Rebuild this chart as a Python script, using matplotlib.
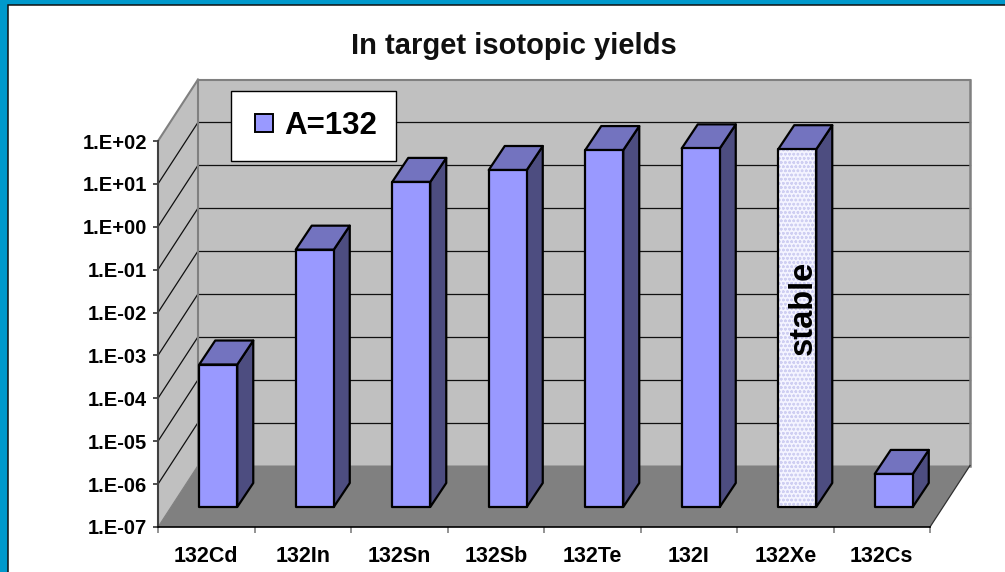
import numpy as np
import matplotlib
matplotlib.use('Agg')
import matplotlib.pyplot as plt
from matplotlib.patches import Polygon, Patch, Rectangle
from matplotlib.lines import Line2D
from matplotlib.legend_handler import HandlerPatch
from matplotlib.transforms import IdentityTransform

plt.rcParams['font.family'] = ['Liberation Sans', 'DejaVu Sans']
plt.rcParams['font.weight'] = 'bold'
plt.rcParams['hatch.linewidth'] = 0.7

# yields per isotope
isotopes = ['132Cd', '132In', '132Sn', '132Sb', '132Te', '132I', '132Xe', '132Cs']
yields = [2.1e-4, 1.0e-1, 3.8, 7.2, 21, 23, 22, 5.9e-7]
is_stable = [False, False, False, False, False, False, True, False]
decades = [1e-7, 1e-6, 1e-5, 1e-4, 1e-3, 1e-2, 1e-1, 1e0, 1e1, 1e2]
decade_labels = ['1.E-07', '1.E-06', '1.E-05', '1.E-04', '1.E-03', '1.E-02', '1.E-01', '1.E+00', '1.E+01', '1.E+02']

W, H = 1005, 572
fig = plt.figure(figsize=(W / 100, H / 100), dpi=100, facecolor='white')

# slide frame
bg = fig.add_axes([0, 0, 1, 1], zorder=0)
bg.set_xlim(0, W)
bg.set_ylim(H, 0)
bg.axis('off')
bg.add_patch(Rectangle((0, 0), W, H, fc='#0099CC', ec='none'))
bg.add_patch(Rectangle((7.5, 5), W, H, fc='white', ec='#101010', lw=1.1))

ax = fig.add_axes([158 / W, 1 - 527 / H, 772 / W, 386 / H], zorder=1)
ax.set_yscale('log')
ax.set_xlim(0, len(isotopes))
ax.set_ylim(1e-7, 1e2)
ax.patch.set_visible(False)

# oblique depth in pixels: full chart, bar front face, bar back face
chart_depth = np.array([40, 61.5])
bar_front = np.array([12, 20])
bar_back = np.array([28, 44])
bar_width = 0.394


def pt(x, y, shift=(0, 0)):
    return ax.transData.transform((x, y)) + np.asarray(shift)


def face(points, **kw):
    ax.add_patch(Polygon(points, closed=True, transform=IdentityTransform(), clip_on=False, **kw))


def seg(a, b, **kw):
    ax.add_line(Line2D([a[0], b[0]], [a[1], b[1]], transform=IdentityTransform(), clip_on=False, **kw))


n = len(isotopes)
lo, hi = decades[0], decades[-1]

# walls and floor
face([pt(0, lo, chart_depth), pt(n, lo, chart_depth), pt(n, hi, chart_depth), pt(0, hi, chart_depth)],
     fc='#C0C0C0', ec='none', zorder=1)
face([pt(0, lo), pt(0, lo, chart_depth), pt(0, hi, chart_depth), pt(0, hi)],
     fc='#C0C0C0', ec='none', zorder=1)
face([pt(0, lo), pt(n, lo), pt(n, lo, chart_depth), pt(0, lo, chart_depth)],
     fc='#808080', ec='none', zorder=1.5)

# gridlines on both walls
for d in decades[1:-1]:
    seg(pt(0, d), pt(0, d, chart_depth), color='#101010', lw=0.9, zorder=2)
    seg(pt(0, d, chart_depth), pt(n, d, chart_depth), color='#101010', lw=0.9, zorder=2)

seg(pt(0, hi), pt(0, hi, chart_depth), color='#808080', lw=1.5, zorder=2)
seg(pt(0, hi, chart_depth), pt(n, hi, chart_depth), color='#808080', lw=1.5, zorder=2)
seg(pt(0, lo, chart_depth), pt(0, hi, chart_depth), color='#808080', lw=1.5, zorder=2)
seg(pt(n, lo, chart_depth), pt(n, hi, chart_depth), color='#808080', lw=1.8, zorder=2)
seg(pt(0, lo), pt(0, lo, chart_depth), color='#808080', lw=0.8, zorder=2)
seg(pt(n, lo), pt(n, lo, chart_depth), color='#303030', lw=0.9, zorder=2)

# 3D bars
for i, (val, stable) in enumerate(zip(yields, is_stable)):
    x0 = i + 0.5 - bar_width / 2
    x1 = i + 0.5 + bar_width / 2
    z = 3 + i * 0.01
    line = dict(ec='black', lw=1.6, joinstyle='round')
    face([pt(x1, lo, bar_front), pt(x1, lo, bar_back), pt(x1, val, bar_back), pt(x1, val, bar_front)],
         fc='#4D4D80', zorder=z, **line)
    face([pt(x0, val, bar_front), pt(x1, val, bar_front), pt(x1, val, bar_back), pt(x0, val, bar_back)],
         fc='#7373BF', zorder=z, **line)
    front = [pt(x0, lo, bar_front), pt(x1, lo, bar_front), pt(x1, val, bar_front), pt(x0, val, bar_front)]
    if stable:
        face(front, fc='#F4F4FF', ec='#CFCFF2', hatch='oooo', lw=0, zorder=z)
        face(front, fc='none', zorder=z + 0.001, **line)
        mid = pt(i + 0.5, 1e-3, bar_front)
        ax.text(mid[0] + 6, mid[1] + 28, 'stable', rotation=90, ha='center', va='center', fontsize=23.5,
                color='black', transform=IdentityTransform(), zorder=z + 0.002)
    else:
        face(front, fc='#9999FF', zorder=z, **line)

# axes, ticks, labels
for s in ['top', 'right']:
    ax.spines[s].set_visible(False)
ax.spines['left'].set_color('#404040')
ax.spines['left'].set_linewidth(1.5)
ax.spines['bottom'].set_color('black')
ax.spines['bottom'].set_linewidth(1.2)
ax.spines['left'].set_zorder(5)
ax.spines['bottom'].set_zorder(5)

ax.set_yticks(decades)
ax.set_yticklabels(decade_labels)
ax.minorticks_off()
ax.tick_params(axis='y', which='major', length=3.8, width=1.1, color='#202020', pad=4.2, labelsize=14.5)
ax.set_xticks(np.arange(n + 1))
ax.set_xticklabels([])
ax.set_xticks(np.arange(n) + 0.5, minor=True)
ax.set_xticklabels(isotopes, minor=True)
ax.tick_params(axis='x', which='major', length=4.5, width=1.2, color='#808080')
ax.tick_params(axis='x', which='minor', length=0, pad=14, labelsize=15.5)

fig.text(514 / W, 1 - 45.5 / H, 'In target isotopic yields', ha='center', va='center', fontsize=21, color='#101010')


# legend key: small square pushed to the right of its slot (sizes in points)
def legend_key(legend, orig_handle, xdescent, ydescent, width, height, fontsize):
    return Rectangle((width - 13 - xdescent, height / 2 - 6.5 - ydescent), 13, 13)


leg = ax.legend(handles=[Patch(fc='#9999FF', ec='black', lw=1.4, label='A=132')], loc='center',
                bbox_to_anchor=(313.5 / W, 1 - 126 / H), bbox_transform=fig.transFigure,
                handler_map={Patch: HandlerPatch(patch_func=legend_key)},
                fontsize=22.5, fancybox=False, framealpha=1, facecolor='white', edgecolor='black',
                handlelength=0.72, handleheight=0.6, handletextpad=0.35, borderpad=0.63, borderaxespad=0)
leg.get_frame().set_linewidth(1.0)
leg.set_zorder(4)

fig.savefig('out.png', dpi=100)
